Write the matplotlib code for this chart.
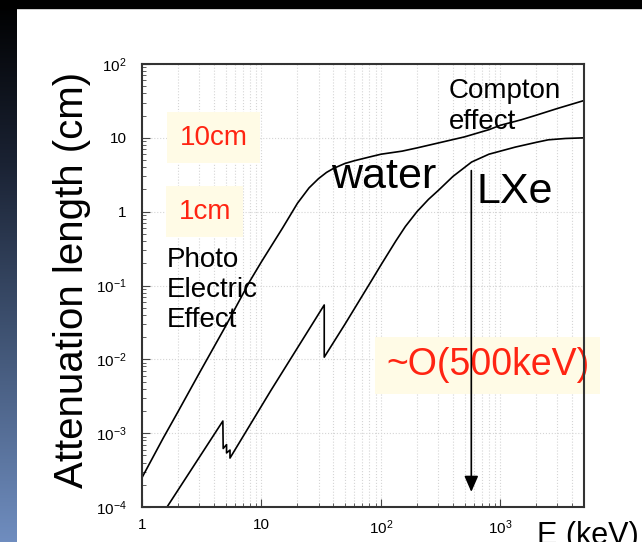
import matplotlib
matplotlib.use('Agg')
import matplotlib.pyplot as plt
import numpy as np
from matplotlib.colors import LinearSegmentedColormap
from matplotlib.patches import Rectangle
from matplotlib.ticker import LogLocator, NullFormatter

plt.rcParams['font.family'] = ['Liberation Sans', 'DejaVu Sans']
plt.rcParams['mathtext.fontset'] = 'custom'
plt.rcParams['mathtext.rm'] = 'Liberation Sans'
plt.rcParams['mathtext.it'] = 'Liberation Sans:italic'

# attenuation length of water (cm) vs photon energy (keV)
water_E = [1, 1.5, 2, 3, 5, 8, 10, 15, 20, 25, 30, 35, 40, 50, 60, 80, 100,
           150, 200, 300, 500, 800, 1000, 1500, 2000, 3000, 5000]
water_L = [2.5e-4, 8.5e-4, 1.95e-3, 6.4e-3, 2.8e-2, 0.115, 0.21, 0.6, 1.3, 2.1,
           2.8, 3.4, 3.85, 4.5, 4.9, 5.5, 6.0, 6.6, 7.3, 8.5, 10.3, 12.9, 14.8,
           17.6, 20.3, 25.0, 32.0]

# attenuation length of liquid xenon (cm), with L and K edges
lxe_E = [1.62, 4.75, 4.78, 5.1, 5.1, 5.45, 5.45, 12, 33.5, 33.5, 50, 84, 100,
         133, 160, 200, 250, 304, 400, 573, 800, 1334, 2000, 2512, 3500, 5000]
lxe_L = [1.0e-4, 1.46e-3, 6.2e-4, 7.0e-4, 5.4e-4, 5.9e-4, 4.6e-4, 3.8e-3,
         5.45e-2, 1.07e-2, 3.0e-2, 0.119, 0.19, 0.4, 0.63, 1.0, 1.47, 1.96,
         3.0, 4.7, 6.0, 7.5, 8.7, 9.4, 9.8, 10.0]

x_ticks = [1, 10, 100, 1000]
x_ticklabels = ['1', '10', r'$10^{2}$', r'$10^{3}$']
y_ticks = [1e-4, 1e-3, 1e-2, 1e-1, 1, 10, 100]
y_ticklabels = [r'$10^{-4}$', r'$10^{-3}$', r'$10^{-2}$', r'$10^{-1}$', '1', '10', r'$10^{2}$']

arrow_E = 570          # ~ O(500 keV) marker
red = '#ff2412'
pale = '#fffbe6'

W, H = 642, 542
fig = plt.figure(figsize=(W / 100, H / 100), dpi=100)
fig.patch.set_facecolor('white')

# slide background: black top band and dark-to-blue strip on the left
bg = fig.add_axes([0, 0, 1, 1], zorder=-1)
bg.set_xlim(0, W)
bg.set_ylim(H, 0)
bg.axis('off')
cmap = LinearSegmentedColormap.from_list(
    'slide', [(0, '#000000'), (0.3, '#1a2233'), (0.6, '#3d506f'), (1.0, '#6f8dbf')])
grad = np.linspace(0, 1, 256).reshape(-1, 1)
bg.imshow(grad, cmap=cmap, extent=[0, 17, H, 0], aspect='auto')
bg.add_patch(Rectangle((0, 0), W, 8, color='black'))

ax = fig.add_axes([142 / W, 1 - 507 / H, 442 / W, 443 / H])
ax.set_xscale('log')
ax.set_yscale('log')
ax.set_xlim(1, 5000)
ax.set_ylim(1e-4, 1e2)

ax.plot(water_E, water_L, color='black', lw=1.2)
ax.plot(lxe_E, lxe_L, color='black', lw=1.2)

ax.set_xticks(x_ticks)
ax.set_xticklabels(x_ticklabels)
ax.set_yticks(y_ticks)
ax.set_yticklabels(y_ticklabels)
ax.xaxis.set_minor_locator(LogLocator(base=10, subs=range(2, 10)))
ax.yaxis.set_minor_locator(LogLocator(base=10, subs=range(2, 10)))
ax.xaxis.set_minor_formatter(NullFormatter())
ax.yaxis.set_minor_formatter(NullFormatter())
ax.tick_params(which='both', direction='in', labelsize=11, color='#444444')
ax.tick_params(which='major', length=6)
ax.tick_params(which='minor', length=3)
ax.tick_params(axis='x', pad=8)
ax.tick_params(axis='y', pad=11)

ax.grid(True, which='both', axis='x', ls=':', color='#d5d5d5', lw=0.8)
ax.grid(True, which='major', axis='y', ls=':', color='#d5d5d5', lw=0.8)
for sp in ax.spines.values():
    sp.set_linewidth(1.5)
    sp.set_color('#333333')

box = dict(boxstyle='square,pad=0.45', facecolor=pale, edgecolor='none')
ax.text(4, 10, '10cm', color=red, fontsize=20, ha='center', va='center',
        bbox=box, zorder=1.8)
ax.text(3.35, 1.0, '1cm', color=red, fontsize=20, ha='center', va='center',
        bbox=box, zorder=1.8)
ax.text(1.615, 0.087, 'Photo\nElectric\nEffect', fontsize=20, ha='left',
        va='center', linespacing=1.18)
ax.text(369, 26.5, 'Compton\neffect', fontsize=20, ha='left', va='center',
        linespacing=1.22)
ax.text(38.3, 2.09, 'water', fontsize=31, ha='left', va='baseline')
ax.text(631, 1.31, 'LXe', fontsize=31, ha='left', va='baseline')
ax.text(779, 6.1e-3, '~O(500keV)', color=red, fontsize=27, ha='center',
        va='baseline', clip_on=False, zorder=1.8,
        bbox=dict(boxstyle='square,pad=0.28', facecolor=pale, edgecolor='none'))

ax.annotate('', xy=(arrow_E, 1.6e-4), xytext=(arrow_E, 3.6),
            arrowprops=dict(arrowstyle='-|>,head_length=0.8,head_width=0.35',
                            color='black', lw=1.2, mutation_scale=12,
                            shrinkA=0, shrinkB=0))

fig.text(72 / W, 1 - 280 / H, 'Attenuation length (cm)', rotation=90,
         fontsize=29, ha='center', va='center')
fig.text(537 / W, -1.6 / H, 'E (keV)', fontsize=22, ha='left', va='baseline')

plt.savefig('out.png', dpi=100)
